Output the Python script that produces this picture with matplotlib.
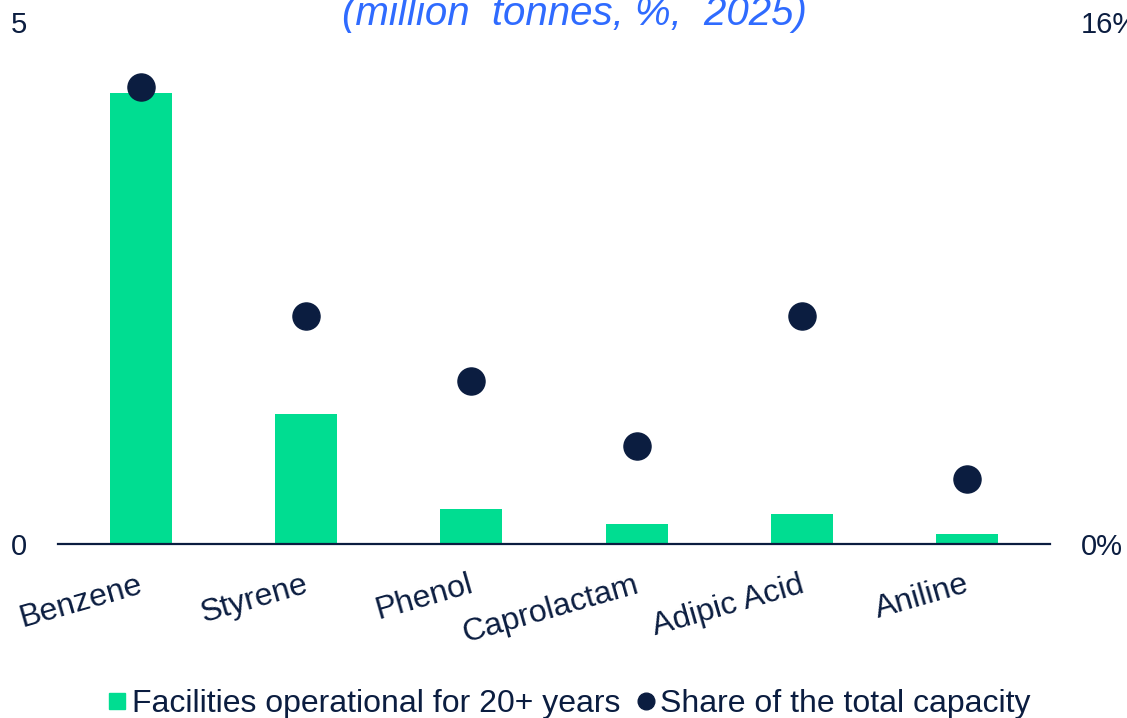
import matplotlib
matplotlib.use("Agg")
import matplotlib.pyplot as plt
from matplotlib.lines import Line2D
from matplotlib.transforms import ScaledTranslation

plt.rcParams['font.family'] = ['Liberation Sans', 'DejaVu Sans']

# data
categories = ['Benzene', 'Styrene', 'Phenol', 'Caprolactam', 'Adipic Acid', 'Aniline']
old_facilities = [4.32, 1.25, 0.34, 0.19, 0.29, 0.10]   # million tonnes
capacity_share = [14.0, 7.0, 5.0, 3.0, 7.0, 2.0]        # %

GREEN = '#00DD91'
NAVY = '#0B1D40'
BLUE = '#2F6BFF'

fig = plt.figure(figsize=(11.27, 7.18), dpi=100)
ax = fig.add_axes([0.0515, 0.2423, 0.8802, 0.7271])
ax2 = ax.twinx()

x = range(len(categories))
ax.bar(x, old_facilities, width=0.375, color=GREEN, zorder=2)
ax2.plot(x, capacity_share, 'o', color=NAVY, markersize=19.5, zorder=3)

ax.set_xlim(-0.5, len(categories) - 0.5)
ax.set_ylim(0, 5)
ax2.set_ylim(0, 16)

ax.set_yticks([0, 5])
ax.set_yticklabels(['0', '5'])
ax2.set_yticks([0, 16])
ax2.set_yticklabels(['0%', '16%'])

ax.set_xticks(list(x))
ax.set_xticklabels(categories, rotation=16, ha='right', rotation_mode='anchor')

for a in (ax, ax2):
    for s in a.spines.values():
        s.set_visible(False)
    a.tick_params(length=0, labelsize=21, labelcolor=NAVY)
    a.patch.set_visible(False)
ax.spines['bottom'].set_visible(True)
ax.spines['bottom'].set_color(NAVY)
ax.spines['bottom'].set_linewidth(1.6)
ax.tick_params(axis='y', pad=22)
ax2.tick_params(axis='y', pad=22)
ax.tick_params(axis='x', pad=20, labelsize=23)

# nudge category labels so they end just before the bar centre
shift = ScaledTranslation(-3 / 100, 2 / 100, fig.dpi_scale_trans)
for lbl in ax.get_xticklabels():
    lbl.set_transform(lbl.get_transform() + shift)

# subtitle, cut at top edge as in the original
fig.text(0.51, 0.965, '(million  tonnes, %,  2025)', color=BLUE, fontsize=29,
         style='italic', ha='center', va='baseline')

handles = [
    Line2D([], [], marker='s', linestyle='none', color=GREEN, markersize=12,
           label='Facilities operational for 20+ years'),
    Line2D([], [], marker='o', linestyle='none', color=NAVY, markersize=12,
           label='Share of the total capacity'),
]
leg = fig.legend(handles=handles, loc='lower center', bbox_to_anchor=(0.503, -0.041),
                 ncol=2, frameon=False, fontsize=23, handletextpad=0.0,
                 columnspacing=0.35, handlelength=0.9)
for t in leg.get_texts():
    t.set_color(NAVY)

fig.savefig('out.png', dpi=100)
